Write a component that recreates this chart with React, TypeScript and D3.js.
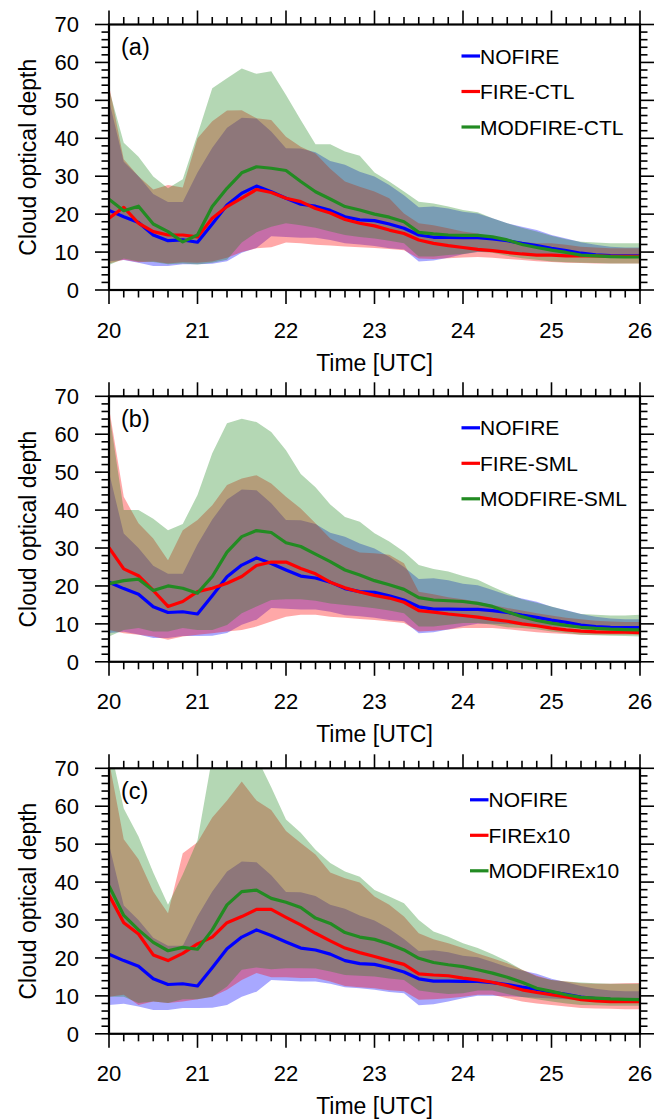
import React from "react";
import * as d3 from "d3";

// minutes after 20 UTC (10-min output)
const minutes = [0, 10, 20, 30, 40, 50, 60, 70, 80, 90, 100, 110, 120, 130, 140, 150, 160, 170, 180, 190, 200, 210, 220, 230, 240, 250, 260, 270, 280, 290, 300, 310, 320, 330, 340, 350, 360];
const xTickHours = [20, 21, 22, 23, 24, 25, 26];
const yTickValues = [0, 10, 20, 30, 40, 50, 60, 70];

// NOFIRE (same in all panels)
const noMean = [21.0, 19.3, 17.8, 14.5, 13.0, 13.2, 12.6, 17.4, 22.4, 25.5, 27.4, 25.9, 24.2, 22.6, 22.1, 21.0, 19.3, 18.5, 18.3, 17.4, 16.3, 14.5, 13.9, 13.9, 13.8, 13.8, 13.5, 13.0, 12.3, 11.7, 11.0, 10.4, 9.7, 9.3, 9.1, 9.0, 9.0];
const noHigh = [50, 33.8, 30, 25.3, 23.2, 23.2, 31, 37.5, 42.8, 45.4, 45.2, 41.8, 37.4, 37.3, 36.3, 34, 33, 31.2, 29.9, 27.7, 25, 21.8, 22, 21.5, 20.6, 20.2, 18.9, 17.6, 16.7, 15.8, 14.5, 13.6, 12.6, 11.9, 11.4, 11.2, 11.2];
const noLow = [7.6, 7.9, 7.2, 6.3, 6.3, 6.8, 6.8, 6.9, 7.6, 9.8, 11.1, 14.2, 14.0, 13.8, 13.8, 13.2, 12.3, 12.0, 11.6, 11.0, 10.7, 7.5, 7.8, 8.5, 9.4, 10.0, 10.0, 9.9, 9.7, 9.5, 9.3, 9.1, 8.9, 8.8, 8.7, 8.6, 8.6];

// Panel (a)
const aRedMean = [18.9, 21.8, 17.6, 15.4, 14.5, 14.5, 14.0, 18.9, 22.0, 24.2, 26.5, 25.7, 24.2, 23.3, 21.5, 20.3, 18.6, 17.6, 16.9, 15.8, 14.9, 13.2, 12.3, 11.7, 11.2, 10.7, 10.4, 9.9, 9.5, 9.2, 9.2, 9.0, 9.0, 9.0, 8.9, 8.9, 8.9];
const aRedHigh = [54, 34.5, 30, 26.5, 27.7, 27, 40, 44.5, 47.3, 47.4, 45.3, 44.8, 40.4, 37.8, 36, 32, 28.6, 27.2, 26, 24.2, 20.2, 17.6, 17.1, 16.3, 15.4, 14.9, 14, 13.2, 12.7, 12.3, 12.3, 11.9, 11.4, 11.2, 11, 11, 11];
const aRedLow = [7.0, 8.0, 7.3, 7.5, 7.0, 7.3, 7.2, 7.5, 8.5, 10.0, 11.0, 11.3, 12.5, 12.3, 11.9, 11.7, 11.5, 11.3, 11.1, 10.8, 10.5, 8.3, 8.2, 8.4, 8.6, 8.7, 8.5, 8.2, 7.9, 7.6, 7.4, 7.2, 7.1, 7.0, 7.0, 7.0, 7.0];
const aGreenMean = [23.9, 20.9, 22.1, 17.4, 15.4, 12.7, 14.5, 22.0, 26.8, 30.9, 32.5, 32.1, 31.5, 28.6, 25.9, 24.0, 22.0, 21.1, 20.0, 19.2, 18.0, 15.2, 14.8, 14.5, 14.4, 14.4, 14.0, 13.2, 12.0, 11.2, 10.5, 9.9, 9.2, 9.0, 8.8, 8.7, 8.7];
const aGreenHigh = [53, 38.8, 35.1, 29.9, 26.8, 29.2, 41, 53.2, 55.8, 58.4, 57, 57.7, 51.4, 44.8, 38.4, 38.4, 36.5, 35.4, 31, 28.6, 26, 23.3, 22.8, 22, 21.1, 20.5, 18.9, 17.6, 16.4, 15.4, 14.3, 13.4, 12.7, 12.5, 12.3, 12.3, 12.3];
const aGreenLow = [6.6, 8.3, 7.5, 7.4, 6.8, 7.0, 6.7, 7.2, 8.0, 12.5, 15.2, 16.7, 17.6, 17.1, 16.4, 15.4, 14.5, 14.0, 13.6, 13.0, 12.3, 8.8, 8.8, 9.2, 9.5, 10.1, 9.8, 9.0, 8.4, 8.0, 7.5, 7.3, 7.2, 7.1, 7.0, 7.0, 7.0];

// Panel (b)
const bRedMean = [30.1, 24.5, 22.7, 18.8, 14.6, 15.9, 18.5, 19.4, 20.7, 22.5, 25.4, 26.3, 26.3, 24.6, 23.2, 21.0, 19.5, 18.4, 17.5, 16.8, 15.7, 13.5, 13.1, 12.6, 12.2, 11.8, 11.2, 10.7, 10.0, 9.5, 8.9, 8.4, 8.1, 7.9, 7.8, 7.8, 7.7];
const bRedHigh = [67, 43.5, 36.5, 32.5, 26.8, 34.7, 37.4, 41.3, 46.6, 48.3, 49.2, 47, 43.5, 40.4, 36.5, 32.5, 30.4, 28.8, 28.6, 28.2, 26.0, 18.5, 17.8, 17, 16.5, 15.8, 15, 14.2, 13.5, 12.8, 12.2, 11.6, 11.2, 10.8, 10.6, 10.5, 10.5];
const bRedLow = [8.4, 7.5, 7.1, 6.7, 5.8, 6.7, 7.1, 7.5, 8.0, 8.4, 9.3, 10.6, 11.9, 12.4, 12.4, 11.9, 11.6, 11.3, 11.0, 10.6, 10.2, 8.0, 8.2, 8.5, 8.9, 8.9, 8.9, 8.6, 8.2, 7.8, 7.5, 7.3, 7.1, 7.1, 7.1, 7.1, 7.1];
const bGreenMean = [20.6, 21.4, 21.8, 18.8, 20.0, 19.4, 18.1, 22.5, 28.9, 33.0, 34.6, 34.1, 31.4, 30.4, 28.4, 26.4, 24.2, 22.9, 21.4, 20.3, 19.1, 16.9, 16.3, 16.1, 15.9, 15.4, 14.6, 13.2, 11.9, 10.9, 10.2, 9.6, 9.1, 8.8, 8.6, 8.5, 8.4];
const bGreenHigh = [66, 40, 40, 37.7, 34.7, 36.3, 44, 55, 62.9, 64.1, 63.2, 60.6, 55.8, 49.5, 46, 41.5, 38.2, 36.9, 33.9, 31.7, 29, 25.5, 24.5, 23.8, 22.6, 21.6, 19.8, 18.1, 16.5, 15.6, 14.6, 13.5, 12.6, 12.4, 12.2, 12.2, 12.4];
const bGreenLow = [6.7, 8.4, 8.9, 8.0, 8.0, 8.9, 8.4, 8.4, 9.7, 12.8, 14.6, 16.3, 16.5, 16.5, 16.1, 15.4, 15.0, 14.6, 14.1, 13.5, 12.8, 9.3, 9.3, 9.8, 10.2, 10.2, 9.8, 9.1, 8.9, 8.6, 8.0, 7.6, 7.1, 7.0, 6.9, 6.8, 6.7];

// Panel (c)
const cRedMean = [36.6, 29.3, 26.3, 20.8, 19.3, 21.2, 23.7, 25.5, 29.3, 30.9, 32.8, 32.8, 30.7, 28.7, 26.5, 24.5, 22.6, 21.4, 20.4, 19.3, 18.3, 15.8, 15.5, 15.3, 14.7, 14.2, 13.6, 12.7, 11.6, 10.9, 10.3, 9.7, 9.0, 8.7, 8.5, 8.5, 8.5];
const cRedHigh = [72, 51.3, 46, 37.5, 31.8, 47.6, 50.5, 57, 61.5, 66.5, 61.5, 59, 53.5, 50.3, 47.3, 42.5, 41, 39.9, 36.2, 34, 30.9, 26.5, 24.9, 23.9, 22.6, 21.2, 19.9, 18.6, 16.9, 15.3, 14.2, 13.8, 13.3, 13.2, 13.2, 13.3, 13.4];
const cRedLow = [9.8, 10.3, 7.6, 8.5, 8.1, 8.5, 9.1, 9.8, 11.6, 14.2, 16.0, 14.9, 14.9, 14.7, 14.7, 13.8, 12.6, 12.3, 12.0, 11.5, 11.2, 9.0, 9.1, 9.4, 9.8, 10.3, 10.3, 9.4, 8.5, 8.0, 7.6, 7.2, 6.8, 6.7, 6.6, 6.5, 6.5];
const cGreenMean = [39, 31.2, 27.4, 24.1, 21.9, 22.8, 22.3, 27.4, 34, 37.5, 37.9, 35.7, 34.7, 33.3, 30.5, 29.1, 26.7, 25.5, 24.9, 23.7, 22.1, 19.9, 18.8, 18.2, 17.7, 16.9, 16.0, 14.9, 13.6, 12.0, 11.2, 10.3, 9.6, 9.4, 9.2, 9.1, 9.0];
const cGreenHigh = [77, 59.4, 52, 42.5, 34, 42, 51, 73, 76, 77, 73, 65, 56.5, 53, 48.5, 45, 42.8, 41.4, 37.9, 36.2, 34.4, 30, 27, 25.6, 23.9, 22.6, 21, 19.1, 16.9, 15.1, 14.2, 13.8, 13.5, 13.3, 13.2, 13.2, 13.2];
const cGreenLow = [9.8, 9.8, 8.1, 8.5, 8.1, 9.1, 9.1, 9.8, 12.5, 16.9, 17.5, 17.0, 17.3, 17.3, 17.2, 16.4, 15.5, 15.3, 15.1, 14.6, 14.2, 11.4, 10.9, 10.5, 10.7, 11.4, 11.4, 10.5, 9.7, 9.1, 8.5, 8.0, 7.6, 7.5, 7.4, 7.4, 7.4];

const panelLetters = ["(a)", "(b)", "(c)"];
const legendNames = [
  ["NOFIRE", "FIRE-CTL", "MODFIRE-CTL"],
  ["NOFIRE", "FIRE-SML", "MODFIRE-SML"],
  ["NOFIRE", "FIREx10", "MODFIREx10"],
];
const seriesColors = ["#0000ff", "#ff0000", "#228b22"];

const panelData = [
  [
    { mean: noMean, high: noHigh, low: noLow },
    { mean: aRedMean, high: aRedHigh, low: aRedLow },
    { mean: aGreenMean, high: aGreenHigh, low: aGreenLow },
  ],
  [
    { mean: noMean, high: noHigh, low: noLow },
    { mean: bRedMean, high: bRedHigh, low: bRedLow },
    { mean: bGreenMean, high: bGreenHigh, low: bGreenLow },
  ],
  [
    { mean: noMean, high: noHigh, low: noLow },
    { mean: cRedMean, high: cRedHigh, low: cRedLow },
    { mean: cGreenMean, high: cGreenHigh, low: cGreenLow },
  ],
];

const W = 654;
const H = 1120;
const LEFT = 109;
const RIGHT = 640;
const PANEL_TOPS = [24.5, 396.3, 768.3];
const PANEL_H = 265.5;
const LEGEND_X = [461.5, 461.5, 470];
const FONT = "'Liberation Sans', Arial, Helvetica, sans-serif";

const x = d3.scaleLinear().domain([20, 26]).range([LEFT, RIGHT]);

function Panel({ idx }: { idx: number }) {
  const top = PANEL_TOPS[idx];
  const bottom = top + PANEL_H;
  const y = d3.scaleLinear().domain([0, 70]).range([bottom, top]);
  const hours = minutes.map((m) => 20 + m / 60);
  const series = panelData[idx];
  const clipId = `clip-${idx}`;

  const area = (s: { high: number[]; low: number[] }) =>
    d3
      .area<number>()
      .x((_, i) => x(hours[i]))
      .y0((_, i) => y(s.low[i]))
      .y1((_, i) => y(s.high[i]))(s.high) || "";
  const line = (vals: number[]) =>
    d3
      .line<number>()
      .x((_, i) => x(hours[i]))
      .y((d) => y(d))(vals) || "";

  const xMinor = d3.range(0, 361, 10).filter((m) => m % 60 !== 0).map((m) => 20 + m / 60);
  const yMinor = d3.range(0, 71, 2).filter((v) => v % 10 !== 0);
  const MAJ = 14;
  const MIN = 7.5;

  return (
    <g>
      <defs>
        <clipPath id={clipId}>
          <rect x={LEFT} y={top} width={RIGHT - LEFT} height={PANEL_H} />
        </clipPath>
      </defs>
      <g clipPath={`url(#${clipId})`}>
        {series.map((s, i) => (
          <path key={"a" + i} d={area(s)} fill={seriesColors[i]} fillOpacity={0.34} stroke="none" />
        ))}
        {series.map((s, i) => (
          <path key={"l" + i} d={line(s.mean)} fill="none" stroke={seriesColors[i]} strokeWidth={3.2} strokeLinejoin="round" />
        ))}
      </g>
      {/* ticks */}
      <g stroke="#000" strokeWidth={1.6}>
        {xTickHours.map((h) => (
          <g key={"xt" + h}>
            <line x1={x(h)} x2={x(h)} y1={bottom} y2={bottom + MAJ} />
            <line x1={x(h)} x2={x(h)} y1={top} y2={top - MAJ} />
          </g>
        ))}
        {xMinor.map((h, i) => (
          <g key={"xm" + i}>
            <line x1={x(h)} x2={x(h)} y1={bottom} y2={bottom + MIN} />
            <line x1={x(h)} x2={x(h)} y1={top} y2={top - MIN} />
          </g>
        ))}
        {yTickValues.map((v) => (
          <g key={"yt" + v}>
            <line x1={LEFT} x2={LEFT - MAJ} y1={y(v)} y2={y(v)} />
            <line x1={RIGHT} x2={RIGHT + MAJ} y1={y(v)} y2={y(v)} />
          </g>
        ))}
        {yMinor.map((v) => (
          <g key={"ym" + v}>
            <line x1={LEFT} x2={LEFT - MIN} y1={y(v)} y2={y(v)} />
            <line x1={RIGHT} x2={RIGHT + MIN} y1={y(v)} y2={y(v)} />
          </g>
        ))}
      </g>
      <rect x={LEFT} y={top} width={RIGHT - LEFT} height={PANEL_H} fill="none" stroke="#000" strokeWidth={2.2} />
      {/* tick labels */}
      <g fontFamily={FONT} fontSize={22} fill="#000">
        {yTickValues.map((v) => (
          <text key={"yl" + v} x={LEFT - 30} y={y(v)} dy="0.36em" textAnchor="end">
            {v}
          </text>
        ))}
        {xTickHours.map((h) => (
          <text key={"xl" + h} x={x(h)} y={bottom + 47.5} textAnchor="middle">
            {h}
          </text>
        ))}
      </g>
      <text x={(LEFT + RIGHT) / 2} y={bottom + 80.5} textAnchor="middle" fontFamily={FONT} fontSize={23}>
        Time [UTC]
      </text>
      <text
        transform={`translate(36,${(top + bottom) / 2}) rotate(-90)`}
        textAnchor="middle"
        fontFamily={FONT}
        fontSize={23}
      >
        Cloud optical depth
      </text>
      <text x={LEFT + 12} y={top + 22} dy="0.36em" fontFamily={FONT} fontSize={23.5}>
        {panelLetters[idx]}
      </text>
      {/* legend */}
      <g fontFamily={FONT} fontSize={21}>
        {legendNames[idx].map((name, i) => {
          const ly = top + 31.5 + i * 35.5;
          const lx = LEGEND_X[idx];
          return (
            <g key={"lg" + i}>
              <line x1={lx} x2={lx + 18.5} y1={ly} y2={ly} stroke={seriesColors[i]} strokeWidth={3.2} />
              <text x={lx + 18.5} y={ly} dy="0.36em">
                {name}
              </text>
            </g>
          );
        })}
      </g>
    </g>
  );
}

export default function App() {
  return (
    <>
      <style>{"body{margin:0}"}</style>
      <svg width={W} height={H} viewBox={`0 0 ${W} ${H}`} style={{ display: "block", background: "#fff" }}>
        {[0, 1, 2].map((i) => (
          <Panel key={i} idx={i} />
        ))}
      </svg>
    </>
  );
}
